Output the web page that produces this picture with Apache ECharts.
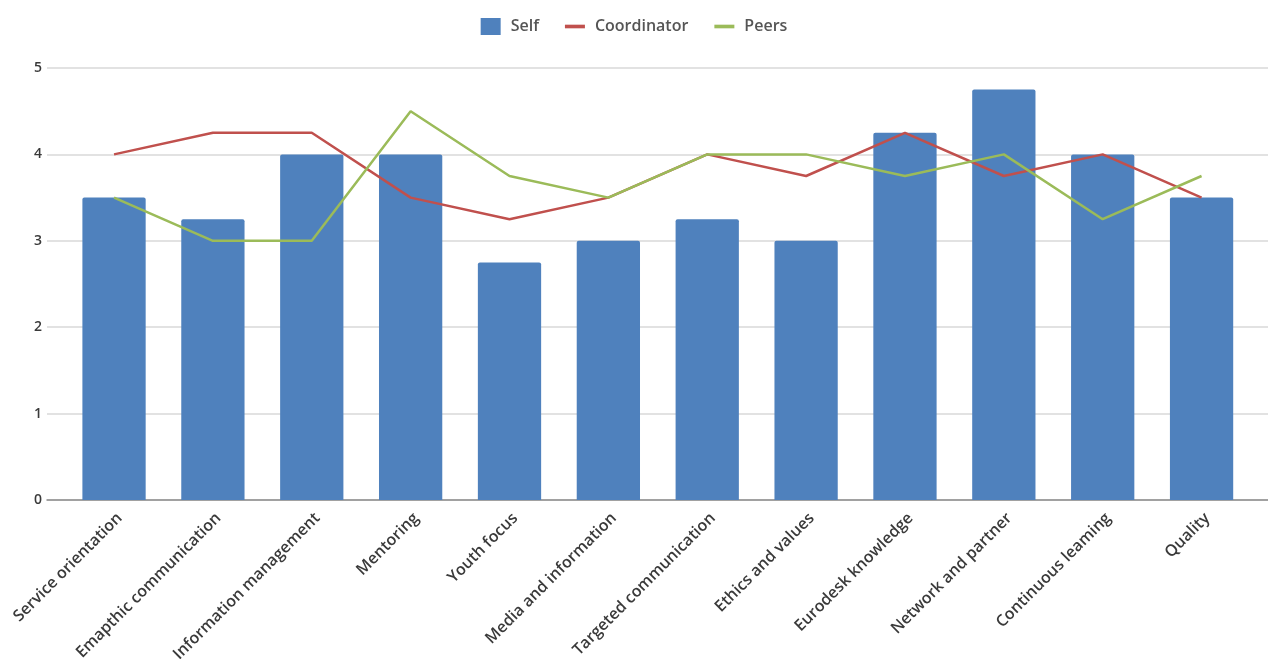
<!DOCTYPE html>
<html>
<head>
<meta charset="utf-8">
<script src="https://cdn.jsdelivr.net/npm/echarts@6/dist/echarts.min.js"></script>
<style>
  html, body { margin: 0; padding: 0; background: #ffffff; }
  #chart { width: 1268px; height: 659px; }
</style>
</head>
<body>
<div id="chart"></div>
<script>
// Competence areas on the horizontal axis
const categories = [
  'Service orientation', 'Emapthic communication', 'Information management',
  'Mentoring', 'Youth focus', 'Media and information', 'Targeted communication',
  'Ethics and values', 'Eurodesk knowledge', 'Network and partner',
  'Continuous leaming', 'Quality'
];

// Ratings per source
const selfScores        = [3.5, 3.25, 4, 4, 2.75, 3, 3.25, 3, 4.25, 4.75, 4, 3.5];
const coordinatorScores = [4, 4.25, 4.25, 3.5, 3.25, 3.5, 4, 3.75, 4.25, 3.75, 4, 3.5];
const peersScores       = [3.5, 3, 3, 4.5, 3.75, 3.5, 4, 4, 3.75, 4, 3.25, 3.75];

const yMin = 0, yMax = 5, yStep = 1;

const textFont = '"Open Sans", "DejaVu Sans", sans-serif';

// short thick stroke centred in the legend icon box
const lineIcon = 'path://M0,0M0,6.5H22V10.5H0ZM22,17';

const chart = echarts.init(document.getElementById('chart'));

chart.setOption({
  animation: false,
  backgroundColor: '#ffffff',
  legend: {
    top: 13,
    left: 'center',
    itemGap: 26,
    itemWidth: 20,
    itemHeight: 17,
    textStyle: { fontFamily: textFont, fontSize: 16, fontWeight: 600, color: '#555555', padding: [0, 0, 0, 5] },
    data: [
      { name: 'Self', icon: 'rect', itemStyle: { color: '#4f81bd' } },
      { name: 'Coordinator', icon: lineIcon, itemStyle: { color: '#c0504d' } },
      { name: 'Peers', icon: lineIcon, itemStyle: { color: '#9bbb59' } }
    ]
  },
  grid: [
    // wide frame: value scale, gridlines and baseline
    { left: 47, right: 0, top: 68, bottom: 159, containLabel: false, outerBoundsMode: 'none' },
    // plotting area for the categories
    { left: 64.6, right: 17, top: 68, bottom: 159, containLabel: false, outerBoundsMode: 'none' }
  ],
  xAxis: [
    {
      gridIndex: 0, type: 'value', min: 0, max: 1,
      axisLine: { show: true, lineStyle: { color: '#8c8c8c', width: 1.5 } },
      axisTick: { show: false }, axisLabel: { show: false }, splitLine: { show: false }
    },
    {
      gridIndex: 1, type: 'category', data: categories,
      axisLine: { show: false }, axisTick: { show: false },
      axisLabel: {
        rotate: 45, interval: 0, margin: 10, verticalAlign: 'top',
        fontFamily: textFont, fontSize: 16, fontWeight: 600, color: '#3a3a3a'
      }
    }
  ],
  yAxis: [
    {
      gridIndex: 0, type: 'value', min: yMin, max: yMax, interval: yStep,
      axisLine: { show: false }, axisTick: { show: false },
      axisLabel: { margin: 5, fontFamily: textFont, fontSize: 14, fontWeight: 600, color: '#3a3a3a' },
      splitLine: { lineStyle: { color: '#d9d9d9', width: 1.5 } }
    },
    {
      gridIndex: 1, type: 'value', min: yMin, max: yMax, interval: yStep,
      show: false, splitLine: { show: false }
    }
  ],
  series: [
    {
      name: 'Self', type: 'bar', xAxisIndex: 1, yAxisIndex: 1,
      data: selfScores, barWidth: '64%',
      itemStyle: { color: '#4f81bd', borderRadius: [2, 2, 0, 0] },
      z: 2
    },
    {
      name: 'Coordinator', type: 'line', xAxisIndex: 1, yAxisIndex: 1,
      data: coordinatorScores, symbol: 'none',
      lineStyle: { color: '#c0504d', width: 2.5 },
      itemStyle: { color: '#c0504d' },
      z: 3
    },
    {
      name: 'Peers', type: 'line', xAxisIndex: 1, yAxisIndex: 1,
      data: peersScores, symbol: 'none',
      lineStyle: { color: '#9bbb59', width: 2.5 },
      itemStyle: { color: '#9bbb59' },
      z: 4
    }
  ]
});
</script>
</body>
</html>
